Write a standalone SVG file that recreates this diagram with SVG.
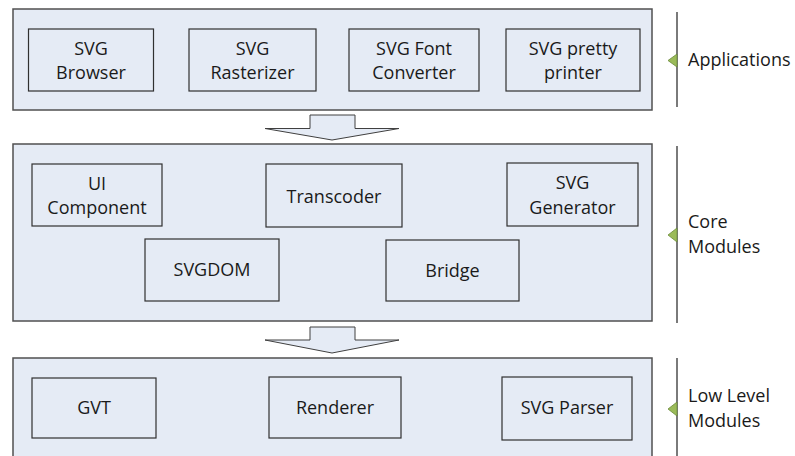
<svg xmlns="http://www.w3.org/2000/svg" width="795" height="456" viewBox="0 0 795 456">
  <style>
    .layer { fill: #e5ebf5; stroke: #505050; stroke-width: 1.5; }
    .box { fill: #e5ebf5; stroke: #303030; stroke-width: 1.2; }
    .flow { fill: #e5ebf5; stroke: #404040; stroke-width: 1; stroke-linejoin: miter; }
    .rule { stroke: #595959; stroke-width: 1.6; fill: none; }
    .tick { fill: #9bbb59; stroke: #6b8a3a; stroke-width: 0.8; }
    text { font-family: "Open Sans", "Liberation Sans", sans-serif; font-size: 18px; fill: #1a1a1a; }
    .c { text-anchor: middle; }
  </style>

  <!-- layer backgrounds -->
  <g id="layer-applications"><rect class="layer" x="13" y="9" width="639" height="101"/></g>
  <g id="layer-core"><rect class="layer" x="13" y="144" width="639" height="177"/></g>
  <g id="layer-lowlevel"><rect class="layer" x="13" y="358" width="639" height="100"/></g>

  <!-- downward block arrows between layers -->
  <g id="connectors">
    <polygon class="flow" points="310,115 355,115 355,128.5 399,128.5 332,140 265,128.5 310,128.5"/>
    <polygon class="flow" points="310,327 355,327 355,340 399,340 332,353 265,340 310,340"/>
  </g>

  <!-- application modules -->
  <g id="svg-browser">
    <rect class="box" x="28.5" y="29" width="125" height="62"/>
    <text class="c" x="91" y="55">SVG</text>
    <text class="c" x="91" y="79">Browser</text>
  </g>
  <g id="svg-rasterizer">
    <rect class="box" x="189" y="29" width="127" height="62"/>
    <text class="c" x="252.5" y="55">SVG</text>
    <text class="c" x="252.5" y="79">Rasterizer</text>
  </g>
  <g id="svg-font-converter">
    <rect class="box" x="349" y="29" width="130" height="62"/>
    <text class="c" x="414" y="55">SVG Font</text>
    <text class="c" x="414" y="79">Converter</text>
  </g>
  <g id="svg-pretty-printer">
    <rect class="box" x="506" y="29" width="134" height="62"/>
    <text class="c" x="573" y="55">SVG pretty</text>
    <text class="c" x="573" y="79">printer</text>
  </g>

  <!-- core modules -->
  <g id="ui-component">
    <rect class="box" x="32" y="164" width="130" height="62"/>
    <text class="c" x="97" y="190">UI</text>
    <text class="c" x="97" y="214">Component</text>
  </g>
  <g id="transcoder">
    <rect class="box" x="266" y="164" width="136" height="63"/>
    <text class="c" x="334" y="203">Transcoder</text>
  </g>
  <g id="svg-generator">
    <rect class="box" x="507" y="163" width="131" height="63"/>
    <text class="c" x="572.5" y="189">SVG</text>
    <text class="c" x="572.5" y="214">Generator</text>
  </g>
  <g id="svgdom">
    <rect class="box" x="145" y="239" width="134" height="62"/>
    <text class="c" x="212" y="276">SVGDOM</text>
  </g>
  <g id="bridge">
    <rect class="box" x="386" y="240" width="133" height="61"/>
    <text class="c" x="452.5" y="277">Bridge</text>
  </g>

  <!-- low level modules -->
  <g id="gvt">
    <rect class="box" x="32" y="378" width="124" height="60"/>
    <text class="c" x="94" y="414">GVT</text>
  </g>
  <g id="renderer">
    <rect class="box" x="269" y="377" width="132" height="61"/>
    <text class="c" x="335" y="414">Renderer</text>
  </g>
  <g id="svg-parser">
    <rect class="box" x="502" y="377" width="130" height="63"/>
    <text class="c" x="567" y="414">SVG Parser</text>
  </g>

  <!-- layer labels on the right -->
  <g id="label-applications">
    <line class="rule" x1="677" y1="12" x2="677" y2="107"/>
    <polygon class="tick" points="677,54 668,60.5 677,67"/>
    <text x="688" y="66">Applications</text>
  </g>
  <g id="label-core">
    <line class="rule" x1="677" y1="146" x2="677" y2="323"/>
    <polygon class="tick" points="677,228 668,235 677,242"/>
    <text x="688" y="228">Core</text>
    <text x="688" y="253">Modules</text>
  </g>
  <g id="label-lowlevel">
    <line class="rule" x1="677" y1="358" x2="677" y2="456"/>
    <polygon class="tick" points="677,402 668,409 677,416"/>
    <text x="688" y="402">Low Level</text>
    <text x="688" y="427">Modules</text>
  </g>
</svg>
